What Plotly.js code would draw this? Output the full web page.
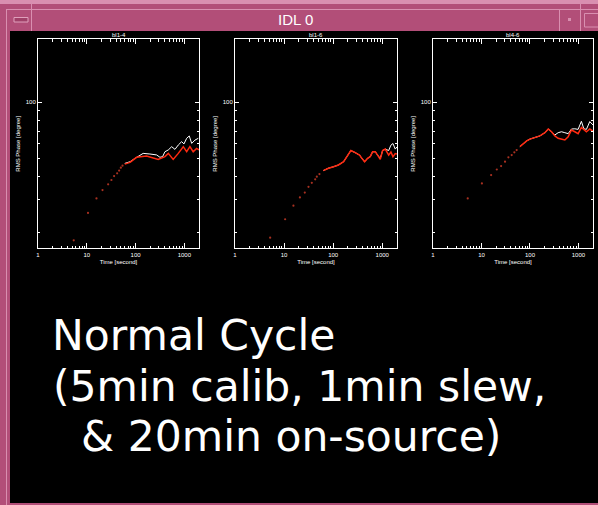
<!DOCTYPE html>
<html>
<head>
<meta charset="utf-8">
<script src="https://cdn.plot.ly/plotly-3.0.1.min.js"></script>
<style>html,body{margin:0;padding:0;background:#000;}#chart{width:598px;height:505px;}</style>
</head>
<body>
<div id="chart"></div>
<script>
// ---------- data ----------
// panel titles
const panelTitles = ["bl1-4", "bl1-6", "bl4-6"];
const xTickVals = [1, 10, 100, 1000];
const xTickText = ["1", "10", "100", "1000"];
const yTickVals = [100];
const yTickText = ["100"];

// bl1-4 : early sparse samples, then dense curves (white = full, red = corrected)
const bl14_dotTime  = [5.4, 10.6, 15.8, 21, 27.4, 32, 36.3, 41.9, 46, 49.9, 54];
const bl14_dotPhase = [18.1, 25.4, 30.4, 33.7, 36.2, 38.2, 40.1, 41.5, 42.9, 44.5, 45.6];
const bl14_whiteTime  = [60, 77, 97, 122, 143, 197, 270, 316, 358, 400, 468, 550, 641, 750, 880, 980, 1115, 1260, 1413, 1650, 1930];
const bl14_whitePhase = [46.9, 47.9, 49.9, 52.1, 53.1, 52.7, 52.1, 50.6, 51, 54.2, 55.4, 57.7, 55.8, 58.9, 61.4, 59.7, 64, 65.9, 60.1, 62.6, 64];
const bl14_redTime  = [60, 77, 105, 168, 291, 400, 468, 590, 750, 950, 1115, 1300, 1515, 1780, 1995];
const bl14_redPhase = [46.5, 47.5, 50.6, 51.4, 49.3, 51, 53.1, 49.3, 53.1, 57.7, 54.2, 57.7, 54.2, 56.5, 55.4];

// bl1-6
const bl16_dotTime  = [5.2, 10.5, 15.5, 21, 26.4, 31.4, 36.7, 43, 46.4, 52.5];
const bl16_dotPhase = [18.7, 23.5, 27.8, 30.8, 32.7, 35.1, 36.9, 38.5, 39.8, 41.1];
const bl16_whiteTime  = [63, 80, 101.6, 128, 163, 190, 229, 281, 344, 385, 436, 500, 569, 636, 720, 803, 910, 1016, 1150, 1350, 1500, 1650, 1840, 1990];
const bl16_whitePhase = [42.9, 44.2, 45, 46, 47.9, 51, 55, 53.6, 52, 49.9, 47.9, 49.9, 51, 54.2, 54.2, 52, 49.9, 55, 56, 55, 58.8, 60, 56, 57.5];
const bl16_redTime  = [63, 80, 101.6, 128, 163, 190, 229, 281, 344, 385, 436, 500, 569, 636, 720, 803, 910, 1016, 1150, 1350, 1500, 1650, 1840, 1990];
const bl16_redPhase = [42.9, 44.2, 45, 46, 47.9, 51, 55, 53.6, 52, 49.9, 47.9, 49.9, 51, 54.2, 54.2, 52, 49.3, 55, 56, 52, 54, 51, 53, 52.7];

// bl4-6
const bl46_dotTime  = [5.2, 10.2, 15.8, 20.7, 25.4, 30.6, 35.9, 42, 47.6, 53.2];
const bl46_dotPhase = [30.4, 36.6, 40.6, 43.5, 45.4, 47.9, 50.6, 52, 53.8, 55.3];
const bl46_whiteTime  = [62, 73, 85.5, 100, 126, 160, 203, 238, 279, 326, 381, 447, 524, 614, 718, 841, 984, 1150, 1290, 1460, 1710, 1990];
const bl46_whitePhase = [57.7, 60, 62, 63.4, 64.8, 65.9, 68.6, 71.8, 69.4, 66.7, 68.6, 69.4, 68.6, 67.8, 71.8, 72, 71.5, 79, 72, 71.5, 78.7, 75.5];
const bl46_redTime  = [62, 73, 85.5, 100, 126, 160, 203, 238, 279, 326, 381, 447, 524, 614, 718, 841, 984, 1150, 1290, 1460, 1710, 1990];
const bl46_redPhase = [57.7, 60, 62, 63.4, 64.8, 65.9, 68.6, 71.8, 69.4, 65.9, 64, 63.2, 62.7, 65.3, 70.9, 69.4, 67.8, 73.3, 71, 69.4, 71.8, 70];

// ---------- layout helpers ----------
const W = 598, H = 505;
const px = x => x / W;
const py = y => 1 - y / H;

const panels = [
  {dotT: bl14_dotTime, dotP: bl14_dotPhase, wT: bl14_whiteTime, wP: bl14_whitePhase, rT: bl14_redTime, rP: bl14_redPhase, x0: 38, x1: 199},
  {dotT: bl16_dotTime, dotP: bl16_dotPhase, wT: bl16_whiteTime, wP: bl16_whitePhase, rT: bl16_redTime, rP: bl16_redPhase, x0: 235, x1: 397},
  {dotT: bl46_dotTime, dotP: bl46_dotPhase, wT: bl46_whiteTime, wP: bl46_whitePhase, rT: bl46_redTime, rP: bl46_redPhase, x0: 433, x1: 593}
];
const yTop = 39.3, yBot = 248.3;

const xMinor = [];
for (let k = 0; k < 4; k++) for (let d = 2; d <= 9; d++) { const v = d * Math.pow(10, k); if (v < 1990) xMinor.push(v); }
const yMinor = [20, 30, 40, 50, 60, 70, 80, 90];

const tickFont = {family: "Liberation Sans, Arial, sans-serif", size: 6, color: "#ffffff"};

const data = [];
const layout = {
  width: W, height: H,
  margin: {l: 0, r: 0, t: 0, b: 0},
  paper_bgcolor: "#b24e78",
  plot_bgcolor: "#000000",
  showlegend: false,
  shapes: [],
  annotations: []
};

panels.forEach((p, i) => {
  const n = i === 0 ? "" : String(i + 1);
  const xa = "x" + n, ya = "y" + n;
  data.push({x: p.wT, y: p.wP, xaxis: xa, yaxis: ya, mode: "lines", line: {color: "#ffffff", width: 1}, hoverinfo: "skip"});
  data.push({x: p.rT, y: p.rP, xaxis: xa, yaxis: ya, mode: "lines", line: {color: "#ff2a10", width: 1.5}, hoverinfo: "skip"});
  data.push({x: p.dotT, y: p.dotP, xaxis: xa, yaxis: ya, mode: "markers", marker: {color: "#a83020", size: 2.2, line: {width: 0}}, hoverinfo: "skip"});

  layout["xaxis" + n] = {
    domain: [px(p.x0), px(p.x1)], anchor: ya, type: "log", range: [0, 3.3],
    showline: true, linecolor: "#ffffff", linewidth: 1, mirror: "allticks",
    ticks: "inside", ticklen: 5, tickwidth: 1, tickcolor: "#ffffff",
    tickmode: "array", tickvals: xTickVals, ticktext: xTickText,
    tickfont: tickFont, showgrid: false, zeroline: false, fixedrange: true,
    minor: {tickmode: "array", tickvals: xMinor, ticks: "inside", ticklen: 2.5, tickcolor: "#ffffff", tickwidth: 1, showgrid: false},
    title: {text: "Time [second]", font: tickFont, standoff: 3}
  };
  layout["yaxis" + n] = {
    domain: [py(yBot), py(yTop)], anchor: xa, type: "log",
    range: [Math.log10(16.4), Math.log10(218)],
    showline: true, linecolor: "#ffffff", linewidth: 1, mirror: "allticks",
    ticks: "inside", ticklen: 4, tickwidth: 1, tickcolor: "#ffffff",
    tickmode: "array", tickvals: yTickVals, ticktext: yTickText,
    tickfont: tickFont, showgrid: false, zeroline: false, fixedrange: true,
    minor: {tickmode: "array", tickvals: yMinor, ticks: "inside", ticklen: 2, tickcolor: "#ffffff", tickwidth: 1, showgrid: false},
    title: {text: "RMS Phase [degree]", font: tickFont, standoff: 4}
  };
  layout.annotations.push({
    text: panelTitles[i], xref: "paper", yref: "paper",
    x: px((p.x0 + p.x1) / 2), y: py(35), xanchor: "center", yanchor: "middle",
    showarrow: false, font: tickFont
  });
});

// window chrome
const sh = layout.shapes;
sh.push({type: "rect", xref: "paper", yref: "paper", x0: px(10), x1: 1, y0: py(503), y1: py(31), fillcolor: "#000000", line: {width: 0}, layer: "below"});
sh.push({type: "rect", xref: "paper", yref: "paper", x0: 0, x1: 1, y0: py(4), y1: 1, fillcolor: "#d98fb0", line: {width: 0}, layer: "below"});
sh.push({type: "line", xref: "paper", yref: "paper", x0: px(6.5), x1: px(6.5), y0: 0, y1: py(9), line: {color: "#d98fb0", width: 1}, layer: "below"});
sh.push({type: "line", xref: "paper", yref: "paper", x0: px(6.5), x1: 1, y0: py(9.5), y1: py(9.5), line: {color: "#d98fb0", width: 1}, layer: "below"});
sh.push({type: "line", xref: "paper", yref: "paper", x0: px(31.5), x1: px(31.5), y0: py(31), y1: py(4), line: {color: "#d98fb0", width: 1}, layer: "below"});
sh.push({type: "line", xref: "paper", yref: "paper", x0: px(559.5), x1: px(559.5), y0: py(31), y1: py(9), line: {color: "#d98fb0", width: 1}, layer: "below"});
sh.push({type: "line", xref: "paper", yref: "paper", x0: px(580.5), x1: px(580.5), y0: py(31), y1: py(4), line: {color: "#d98fb0", width: 1}, layer: "below"});
sh.push({type: "rect", xref: "paper", yref: "paper", x0: px(14), x1: px(28), y0: py(22), y1: py(17.5), fillcolor: "#a04068", line: {color: "#e0a0bc", width: 1}, layer: "below"});
sh.push({type: "rect", xref: "paper", yref: "paper", x0: px(568), x1: px(571), y0: py(21), y1: py(18), fillcolor: "#d98fb0", line: {width: 0}, layer: "below"});
sh.push({type: "rect", xref: "paper", yref: "paper", x0: px(584.5), x1: px(600), y0: py(27), y1: py(13.5), fillcolor: "rgba(0,0,0,0)", line: {color: "#d98fb0", width: 1}, layer: "below"});

const ann = layout.annotations;
ann.push({text: "IDL 0", xref: "paper", yref: "paper", x: px(295), y: py(19.5), xanchor: "center", yanchor: "middle", showarrow: false,
  font: {family: "Liberation Sans, Arial, sans-serif", size: 15, color: "#ffffff"}});
const bigFont = {family: "DejaVu Sans, Verdana, sans-serif", size: 42.5, color: "#ffffff"};
ann.push({text: "Normal Cycle", xref: "paper", yref: "paper", x: px(50), y: py(335), xanchor: "left", yanchor: "middle", showarrow: false, font: bigFont});
ann.push({text: "(5min calib, 1min slew,", xref: "paper", yref: "paper", x: px(51), y: py(386), xanchor: "left", yanchor: "middle", showarrow: false, font: bigFont});
ann.push({text: "& 20min on-source)", xref: "paper", yref: "paper", x: px(79), y: py(436), xanchor: "left", yanchor: "middle", showarrow: false, font: bigFont});

Plotly.newPlot("chart", data, layout, {staticPlot: true, displayModeBar: false});
</script>
</body>
</html>
